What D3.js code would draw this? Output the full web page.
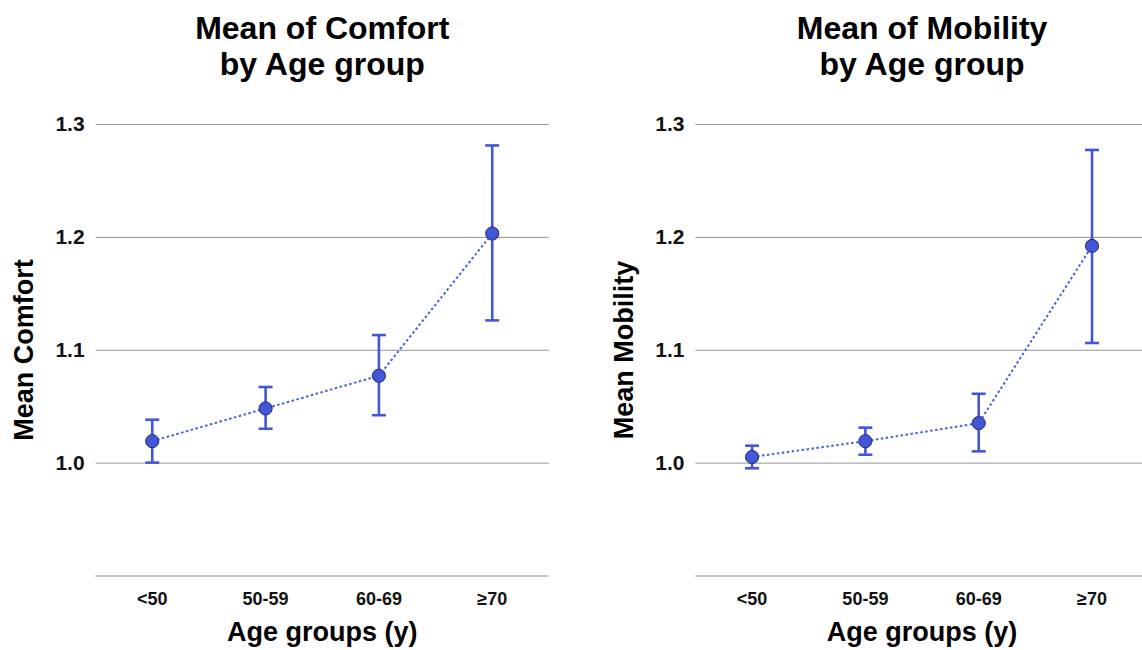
<!DOCTYPE html>
<html lang="en">
<head>
    <meta charset="UTF-8">
    <title>Mean of Comfort / Mobility by Age group</title>
    <script src="https://d3js.org/d3.v7.min.js"></script>
    <style>
        body { margin: 0; background: #fff; }
        svg { display: block; font-family: "Liberation Sans", Arial, sans-serif; }

        .grid line { stroke: #959595; stroke-width: 1px; }
        .grid text { font-size: 21px; font-weight: bold; fill: #111; }
        .xaxis text { font-size: 18px; font-weight: bold; fill: #111; }

        .title, .axis-title { font-weight: bold; fill: #000; text-anchor: middle; }
        .title { font-size: 32px; }
        .axis-title { font-size: 27px; }

        .trend { fill: none; stroke: #4a5fe0; stroke-width: 2px; stroke-dasharray: 2.5, 2.5; }
        .errbar { stroke: #4256d8; stroke-width: 2.6px; }
        .point { fill: #4256d8; stroke: #272d70; stroke-width: 1px; }
    </style>
</head>
<body>
<svg id="chart" width="1142" height="650"></svg>

<script>
    // values
    const ageGroups = ["<50", "50-59", "60-69", "≥70"];

    const comfortMean = [1.019, 1.048, 1.077, 1.203];
    const comfortLow  = [1.000, 1.030, 1.042, 1.126];
    const comfortHigh = [1.038, 1.067, 1.113, 1.281];

    const mobilityMean = [1.005, 1.019, 1.035, 1.192];
    const mobilityLow  = [0.995, 1.007, 1.010, 1.106];
    const mobilityHigh = [1.015, 1.031, 1.061, 1.277];

    const gridTicks = [0.9, 1.0, 1.1, 1.2, 1.3];

    const svg = d3.select("#chart");

    // shared vertical scale
    const y = d3.scaleLinear().domain([0.9, 1.3]).range([575.5, 124]);

    function drawPanel(opts) {
        const x = d3.scaleBand()
            .domain(ageGroups)
            .range([opts.left, opts.left + 453.3]);

        const g = svg.append("g");

        // gridlines + y tick labels (0.9 line has no label)
        g.append("g")
            .attr("class", "grid")
            .attr("transform", `translate(${opts.left},0)`)
            .call(d3.axisLeft(y)
                .tickValues(gridTicks)
                .tickSize(-453.3)
                .tickPadding(11)
                .tickFormat(d => d < 0.95 ? "" : d3.format(".1f")(d)))
            .call(ax => ax.select(".domain").remove());

        // x tick labels
        g.append("g")
            .attr("class", "xaxis")
            .attr("transform", `translate(0,${y(0.9)})`)
            .call(d3.axisBottom(x).tickSize(0).tickPadding(17))
            .call(ax => ax.select(".domain").remove());

        const rows = ageGroups.map((a, i) => ({
            group: a, mean: opts.mean[i], low: opts.low[i], high: opts.high[i]
        }));
        const cx = d => x(d.group) + x.bandwidth() / 2;

        // dotted trend line
        g.append("path")
            .datum(rows)
            .attr("class", "trend")
            .attr("d", d3.line().x(cx).y(d => y(d.mean)));

        // error bars with caps
        const eb = g.selectAll(".eb").data(rows).enter().append("g");
        eb.append("line").attr("class", "errbar")
            .attr("x1", cx).attr("x2", cx)
            .attr("y1", d => y(d.low)).attr("y2", d => y(d.high));
        eb.append("line").attr("class", "errbar")
            .attr("x1", d => cx(d) - 7).attr("x2", d => cx(d) + 7)
            .attr("y1", d => y(d.high)).attr("y2", d => y(d.high));
        eb.append("line").attr("class", "errbar")
            .attr("x1", d => cx(d) - 7).attr("x2", d => cx(d) + 7)
            .attr("y1", d => y(d.low)).attr("y2", d => y(d.low));

        // mean points
        g.selectAll(".point").data(rows).enter().append("circle")
            .attr("class", "point")
            .attr("cx", cx)
            .attr("cy", d => y(d.mean))
            .attr("r", 6.6);

        // titles
        const mid = opts.left + 453.3 / 2;
        const t = g.append("text").attr("class", "title");
        t.append("tspan").attr("x", mid).attr("y", 39).text(opts.title[0]);
        t.append("tspan").attr("x", mid).attr("y", 75).text(opts.title[1]);

        g.append("text")
            .attr("class", "axis-title")
            .attr("x", mid)
            .attr("y", 641)
            .text("Age groups (y)");

        g.append("text")
            .attr("class", "axis-title")
            .attr("transform", `translate(${opts.left - 62.5},350) rotate(-90)`)
            .text(opts.yLabel);
    }

    drawPanel({
        left: 95.6,
        title: ["Mean of Comfort", "by Age group"],
        yLabel: "Mean Comfort",
        mean: comfortMean, low: comfortLow, high: comfortHigh
    });

    drawPanel({
        left: 695.4,
        title: ["Mean of Mobility", "by Age group"],
        yLabel: "Mean Mobility",
        mean: mobilityMean, low: mobilityLow, high: mobilityHigh
    });
</script>
</body>
</html>
